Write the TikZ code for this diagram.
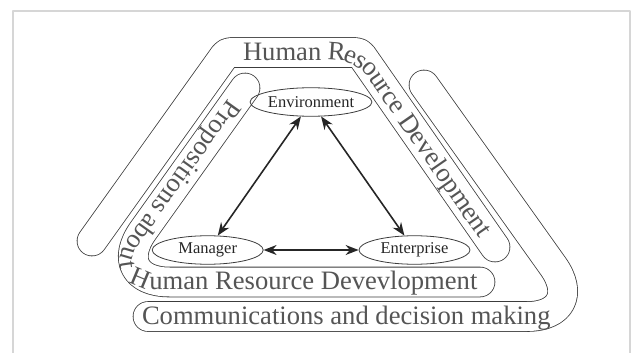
\documentclass[tikz,border=0pt]{standalone}
\usepackage{fontspec}
\setmainfont{Liberation Serif}
\usetikzlibrary{shapes.geometric,decorations.text,arrows.meta}
\definecolor{framegray}{HTML}{D6D6D6}
\definecolor{bandline}{HTML}{3C3C3C}
\definecolor{bandtext}{HTML}{555555}
\tikzset{
  band/.style={draw=bandline,line width=0.8pt,double=white,double distance=29pt,line cap=round},
  bandlabel/.style={decorate,decoration={text along path,text color=bandtext,raise=-7.5pt,
      text={|\fontsize{26.6}{26.6}\selectfont|#1}}},
  actor/.style={ellipse,draw=bandline,line width=0.8pt,minimum width=111pt,minimum height=28.5pt,
      inner sep=0pt,font=\fontsize{16.5}{16.5}\selectfont,text=black!85}
}
\begin{document}
\begin{tikzpicture}[x=1pt,y=1pt,line join=round,>={Stealth[length=13pt,width=10pt]}]
  \useasboundingbox (0,0) rectangle (632,-353);
  % frame
  \draw[framegray,line width=2.5pt] (13,-353) -- (13,-11) -- (630,-11) -- (630,-353);

  % the three bands
  \draw[band,rounded corners=4pt] (92,-241) -- (226.7,-52.5) -- (359.6,-52.5) -- (495,-247);
  \draw[band,rounded corners=63pt] (245,-88) -- (106.5,-282) -- (480,-282);
  \draw[band,rounded corners=62pt] (148,-316.5) -- (589,-316.5) -- (424,-85);

  % texts on the bands
  \path[bandlabel={Human Resource Development},rounded corners=25pt]
    (243,-52.5) -- (359.6,-52.5) -- (510,-270);
  \path[bandlabel={Propositions about Human Resource Devevlopment},rounded corners=50pt]
    (234.3,-103) -- (106.5,-282) -- (520,-282);
  \path[bandlabel={Communications and decision making}] (142,-316.5) -- (600,-316.5);

  % actors
  \node[actor] (env) at (311,-102) {Environment};
  \node[actor] (mgr) at (207.7,-250) {Manager};
  \node[actor] (ent) at (414.5,-250) {Enterprise};

  \draw[<->,line width=1.6pt,black!85] (mgr) -- (env);
  \draw[<->,line width=1.6pt,black!85] (env) -- (ent);
  \draw[<->,line width=1.6pt,black!85] (mgr) -- (ent);
\end{tikzpicture}
\end{document}
